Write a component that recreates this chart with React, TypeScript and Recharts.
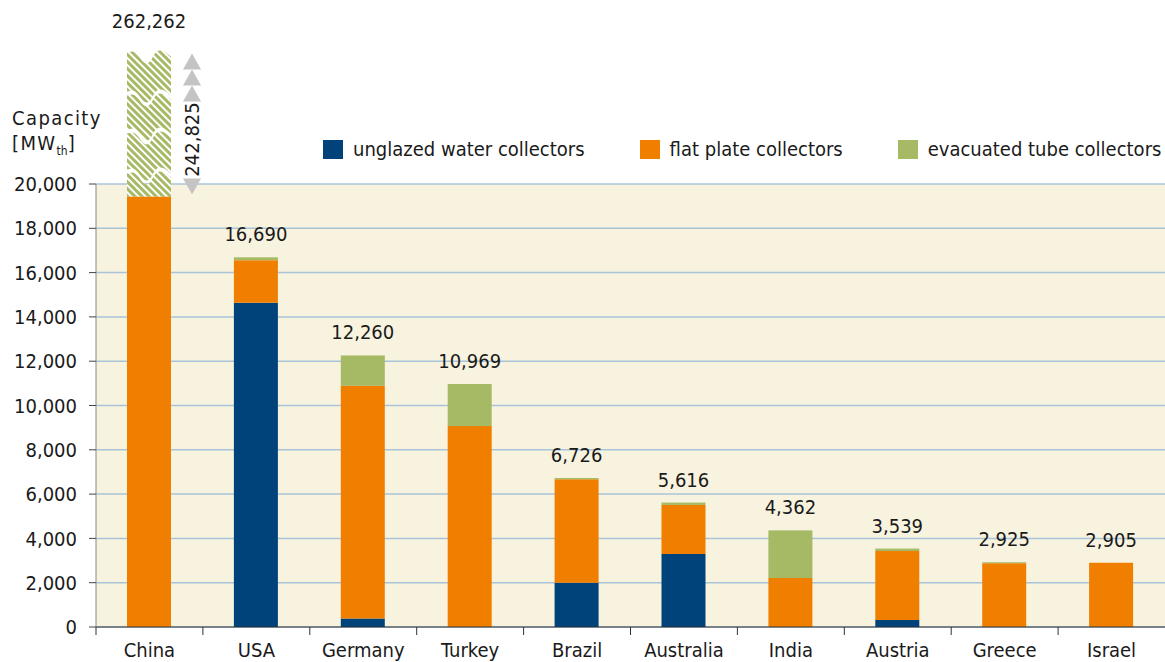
import React from "react";
import { Bar, BarChart, CartesianGrid, LabelList, XAxis, YAxis } from "recharts";

const countries = ["China", "USA", "Germany", "Turkey", "Brazil", "Australia", "India", "Austria", "Greece", "Israel"];
const unglazed = [0, 14640, 380, 0, 2000, 3300, 0, 320, 0, 0];
const flatPlate = [19437, 1920, 10510, 9070, 4670, 2210, 2210, 3110, 2880, 2905];
const evacuated = [242825, 130, 1370, 1899, 56, 106, 2152, 109, 45, 0];
const totals = [262262, 16690, 12260, 10969, 6726, 5616, 4362, 3539, 2925, 2905];
const yTicks = [0, 2000, 4000, 6000, 8000, 10000, 12000, 14000, 16000, 18000, 20000];

const AXIS_MAX = 20000;
const W = 1165;
const H = 662;
const Y_AXIS_W = 96;
const BAND = (W - Y_AXIS_W) / countries.length;

const BLUE = "#00437A";
const ORANGE = "#F07F00";
const GREEN = "#A6B964";
const FONT = "'DejaVu Sans Condensed', 'DejaVu Sans', sans-serif";

const data = countries.map((c, i) => ({
  country: c,
  unglazed: unglazed[i],
  flat: flatPlate[i],
  evacuated: evacuated[i],
  total: totals[i],
  // the part that fits under the axis top; the rest is drawn as a broken bar
  evacShown: Math.min(evacuated[i], AXIS_MAX - unglazed[i] - flatPlate[i]),
}));

const fmt = (v: number) => v.toLocaleString("en-US");

// broken bar: hatched segments with wavy cuts
const BROKEN_H = 145;
const SEG_TOPS = [0, 43, 81, 121];
const GAP = 4;

function EvacShape(props: any) {
  const { x, y, width, height, payload } = props;
  if (payload.country !== "China") {
    return <rect x={x} y={y} width={width} height={height} fill={GREEN} />;
  }
  const base = y + height;
  const top = base - BROKEN_H;
  const x0 = x;
  const x1 = x + width;
  const w = width;
  const px = (f: number) => x0 + f * w;
  // wavy edge, left to right
  const edgeLR = (t: number) =>
    `${x0},${t + 1} L${px(0.12)},${t} C${px(0.25)},${t} ${px(0.33)},${t + 12} ${px(0.45)},${t + 12} ` +
    `C${px(0.57)},${t + 12} ${px(0.6)},${t - 1} ${px(0.75)},${t - 1} C${px(0.88)},${t - 1} ${px(0.95)},${t + 4} ${x1},${t + 5}`;
  // same edge, right to left
  const edgeRL = (b: number) =>
    `L${x1},${b + 5} C${px(0.95)},${b + 4} ${px(0.88)},${b - 1} ${px(0.75)},${b - 1} ` +
    `C${px(0.6)},${b - 1} ${px(0.57)},${b + 12} ${px(0.45)},${b + 12} C${px(0.33)},${b + 12} ${px(0.25)},${b} ${px(0.12)},${b} L${x0},${b + 1} Z`;
  const segs = SEG_TOPS.map((off, i) => {
    const t = top + off;
    if (i === SEG_TOPS.length - 1) {
      return `M${edgeLR(t)} L${x1},${base} L${x0},${base} Z`;
    }
    const b = top + SEG_TOPS[i + 1] - GAP;
    return `M${edgeLR(t)} ${edgeRL(b)}`;
  });
  const ax = x1 + 21;
  const tri = (tip: number, up: boolean) =>
    up
      ? `M${ax},${tip} L${ax + 9},${tip + 16} L${ax - 9},${tip + 16} Z`
      : `M${ax},${tip} L${ax + 9},${tip - 16} L${ax - 9},${tip - 16} Z`;
  return (
    <g>
      <defs>
        <pattern id="hatchGreen" patternUnits="userSpaceOnUse" width={5} height={5} patternTransform="rotate(-45)">
          <rect x={0} y={0} width={5} height={5} fill="#ffffff" />
          <rect x={0} y={0} width={3} height={5} fill={GREEN} />
        </pattern>
      </defs>
      {segs.map((d, i) => (
        <path key={i} d={d} fill="url(#hatchGreen)" />
      ))}
      <path d={tri(top + 2, true)} fill="#C4C4C4" />
      <path d={tri(top + 18, true)} fill="#C4C4C4" />
      <path d={tri(top + 34, true)} fill="#C4C4C4" />
      <path d={tri(base - 2, false)} fill="#C4C4C4" />
      <text
        x={ax}
        y={top + 88}
        transform={`rotate(-90 ${ax} ${top + 88})`}
        textAnchor="middle"
        dominantBaseline="central"
        fontFamily={FONT}
        fontSize={20}
        fill="#1a1a1a"
      >
        {fmt(payload.evacuated)}
      </text>
    </g>
  );
}

function TotalLabel(props: any) {
  const { x, y, width, height, value, index } = props;
  const cx = x + width / 2;
  const ty = index === 0 ? y + height - BROKEN_H - 23 : y - 16;
  return (
    <text x={cx} y={ty} textAnchor="middle" fontFamily={FONT} fontSize={20} fill="#1a1a1a">
      {fmt(value)}
    </text>
  );
}

function CountryTick(props: any) {
  const { x, y, payload } = props;
  const bx = x - BAND / 2;
  return (
    <g>
      <line x1={bx} y1={y} x2={bx} y2={y + 8} stroke="#333" strokeWidth={1} />
      <text x={x} y={y + 30} textAnchor="middle" fontFamily={FONT} fontSize={20} fill="#1a1a1a">
        {payload.value}
      </text>
    </g>
  );
}

const legendItems = [
  { label: "unglazed water collectors", color: BLUE },
  { label: "flat plate collectors", color: ORANGE },
  { label: "evacuated tube collectors", color: GREEN },
];

export default function App() {
  return (
    <div style={{ position: "absolute", left: 0, top: 0, width: W, height: H, background: "#fff", fontFamily: FONT }}>
      <BarChart
        width={W}
        height={H}
        data={data}
        margin={{ top: 184, right: 0, left: 0, bottom: 5 }}
        barSize={44}
      >
        <CartesianGrid vertical={false} stroke="#A9C3D8" strokeWidth={1.5} fill="#F7F3DF" />
        <XAxis
          dataKey="country"
          height={30}
          tickLine={false}
          tickSize={0}
          tickMargin={0}
          axisLine={{ stroke: "#333" }}
          tick={<CountryTick />}
          interval={0}
        />
        <YAxis
          width={Y_AXIS_W}
          domain={[0, AXIS_MAX]}
          ticks={yTicks}
          tickFormatter={fmt}
          tickSize={7}
          tickMargin={12}
          tickLine={{ stroke: "#444" }}
          axisLine={{ stroke: "#888" }}
          tick={{ fontFamily: FONT, fontSize: 20, fill: "#1a1a1a" }}
        />
        <Bar dataKey="unglazed" stackId="a" fill={BLUE} isAnimationActive={false} />
        <Bar dataKey="flat" stackId="a" fill={ORANGE} isAnimationActive={false} />
        <Bar dataKey="evacShown" stackId="a" fill={GREEN} shape={<EvacShape />} isAnimationActive={false}>
          <LabelList dataKey="total" content={<TotalLabel />} />
        </Bar>
      </BarChart>

      <div
        style={{
          position: "absolute",
          left: 12,
          top: 106,
          fontSize: 20,
          lineHeight: "25px",
          letterSpacing: 1.4,
          color: "#1a1a1a",
        }}
      >
        <div>Capacity</div>
        <div>
          [MW<sub style={{ fontSize: 12, letterSpacing: 0 }}>th</sub>]
        </div>
      </div>

      <div
        style={{
          position: "absolute",
          left: 323,
          top: 138,
          display: "flex",
          gap: 55,
          fontSize: 20,
          color: "#1a1a1a",
        }}
      >
        {legendItems.map((it) => (
          <div key={it.label} style={{ display: "flex", alignItems: "center", gap: 10 }}>
            <div style={{ width: 20, height: 19, background: it.color }} />
            <span style={{ lineHeight: "22px" }}>{it.label}</span>
          </div>
        ))}
      </div>
    </div>
  );
}
